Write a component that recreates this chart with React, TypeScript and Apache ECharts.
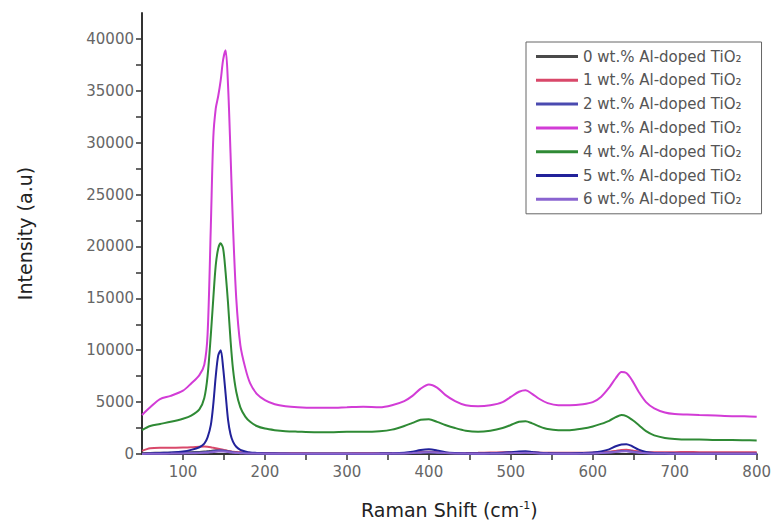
import React, { useEffect, useRef } from "react";
import * as echarts from "echarts";

const ramanShift = [50, 60, 72, 85, 100, 110, 120, 126, 130, 134, 137, 140, 143, 146, 149, 152, 155, 158, 161, 165, 170, 176, 182, 190, 200, 212, 225, 240, 260, 280, 300, 320, 340, 355, 370, 380, 390, 400, 410, 420, 432, 445, 460, 475, 490, 500, 510, 518, 526, 535, 545, 558, 572, 588, 600, 610, 620, 628, 635, 641, 648, 656, 665, 675, 688, 700, 715, 730, 750, 770, 785, 800];

const wt0 = [80, 100, 120, 130, 150, 170, 200, 230, 260, 300,
  330, 360, 380, 390, 370, 330, 280, 230, 190, 150,
  120, 100, 80, 70, 60, 50, 50, 40, 40, 40,
  40, 40, 50, 60, 80, 110, 150, 180, 150, 110,
  80, 60, 50, 60, 80, 100, 120, 130, 110, 80,
  60, 50, 50, 60, 80, 110, 170, 250, 310, 320,
  260, 170, 110, 80, 60, 50, 40, 40, 40, 40,
  40, 40];

const wt1 = [300, 550, 600, 600, 620, 650, 700, 720, 700, 650,
  600, 550, 500, 450, 400, 350, 300, 260, 220, 190,
  160, 140, 120, 100, 90, 80, 70, 70, 60, 60,
  60, 70, 70, 80, 100, 130, 180, 220, 180, 130,
  100, 90, 110, 140, 160, 170, 190, 200, 170, 140,
  120, 110, 110, 120, 140, 170, 220, 300, 380, 400,
  330, 240, 180, 160, 170, 180, 190, 180, 170, 180,
  170, 160];

const wt2 = [20, 40, 60, 80, 100, 120, 150, 180, 210, 250,
  290, 320, 340, 350, 330, 300, 260, 220, 180, 140,
  110, 90, 70, 60, 50, 40, 40, 30, 30, 30,
  30, 30, 40, 50, 70, 100, 140, 170, 140, 100,
  70, 50, 40, 50, 70, 90, 110, 120, 100, 70,
  50, 40, 40, 50, 70, 100, 150, 220, 280, 290,
  230, 150, 90, 60, 50, 40, 30, 30, 30, 30,
  30, 30];

const wt3 = [3760, 4500, 5300, 5600, 6100, 6800, 7600, 8600, 11500, 22000,
  30500, 33300, 34500, 36000, 38000, 38900, 35500, 29000, 22000, 15000,
  10500, 8300, 6800, 5800, 5200, 4800, 4600, 4500, 4450, 4450,
  4500, 4550, 4500, 4700, 5100, 5600, 6300, 6700, 6400, 5700,
  5100, 4700, 4600, 4700, 5000, 5500, 6000, 6150, 5800, 5300,
  4900, 4700, 4700, 4800, 5000, 5500, 6400, 7300, 7900, 7800,
  7100, 6000, 5000, 4400, 4000, 3850, 3800, 3750, 3700, 3650,
  3650, 3600];

const wt4 = [2300, 2700, 2900, 3100, 3400, 3700, 4300, 5400, 7500, 11500,
  15000, 18200, 19800, 20300, 19800, 17500, 14500, 11000, 8200, 6000,
  4500, 3600, 3100, 2700, 2450, 2300, 2200, 2150, 2100, 2100,
  2150, 2150, 2200, 2350, 2700, 3000, 3300, 3350, 3100, 2800,
  2500, 2250, 2150, 2250, 2500, 2800, 3100, 3150, 2950, 2650,
  2400, 2300, 2300, 2450, 2650, 2900, 3200, 3550, 3750, 3650,
  3300, 2800, 2200, 1800, 1550, 1450, 1400, 1400, 1350, 1350,
  1330, 1300];

const wt5 = [0, 50, 100, 150, 250, 400, 650, 1000, 1600, 2800,
  4800, 7500, 9500, 10000, 8300, 5800, 3300, 1900, 1200, 700,
  400, 250, 150, 100, 50, 40, 30, 30, 20, 30,
  20, 30, 40, 60, 120, 220, 380, 450, 350, 180,
  100, 60, 50, 70, 120, 180, 240, 260, 200, 120,
  80, 60, 60, 90, 150, 250, 450, 750, 920, 950,
  750, 420, 200, 100, 60, 40, 30, 30, 20, 20,
  20, 20];

const wt6 = [10, 20, 30, 40, 60, 70, 90, 110, 130, 160,
  190, 210, 230, 240, 230, 210, 180, 150, 120, 100,
  80, 60, 50, 40, 30, 30, 20, 20, 20, 20,
  20, 20, 30, 40, 60, 90, 130, 160, 130, 90,
  60, 40, 30, 40, 60, 80, 100, 110, 90, 60,
  40, 30, 30, 40, 60, 90, 140, 200, 250, 260,
  200, 130, 80, 50, 40, 30, 20, 20, 20, 20,
  20, 20];

const seriesNames = [
  "0 wt.% Al-doped TiO₂",
  "1 wt.% Al-doped TiO₂",
  "2 wt.% Al-doped TiO₂",
  "3 wt.% Al-doped TiO₂",
  "4 wt.% Al-doped TiO₂",
  "5 wt.% Al-doped TiO₂",
  "6 wt.% Al-doped TiO₂",
];
const seriesValues = [wt0, wt1, wt2, wt3, wt4, wt5, wt6];
const seriesColors = ["#4a4a4a", "#d9486a", "#4a4ab0", "#d23cd6", "#2f8a35", "#22229a", "#8a64d0"];

const xLabelValues = [100, 200, 300, 400, 500, 600, 700, 800];
const xTickValues = [100, 150, 200, 250, 300, 350, 400, 450, 500, 550, 600, 650, 700, 750, 800];
const yLabelValues = [0, 5000, 10000, 15000, 20000, 25000, 30000, 35000, 40000];
const yTickValues = [0, 2500, 5000, 7500, 10000, 12500, 15000, 17500, 20000, 22500, 25000, 27500, 30000, 32500, 35000, 37500, 40000];

const FONT = "DejaVu Sans";

export default function App() {
  const ref = useRef<HTMLDivElement>(null);
  useEffect(() => {
    if (!ref.current) return;
    const chart = echarts.init(ref.current, null, { renderer: "svg" });
    chart.setOption({
      animation: false,
      backgroundColor: "#ffffff",
      grid: { left: 142, right: 16, top: 13, bottom: 71 },
      legend: {
        left: 526,
        top: 42,
        orient: "vertical",
        icon: "rect",
        itemWidth: 42,
        itemHeight: 3,
        itemGap: 6.8,
        padding: [6, 20, 6, 10],
        borderColor: "#666",
        borderWidth: 1,
        textStyle: { fontFamily: FONT, fontSize: 15, color: "#555", lineHeight: 17 },
        data: seriesNames,
      },
      xAxis: {
        type: "value",
        min: 50,
        max: 800,
        name: "Raman Shift (cm{sup|-1})",
        nameLocation: "middle",
        nameGap: 46,
        nameTextStyle: {
          fontFamily: FONT,
          fontSize: 19,
          color: "#222",
          rich: { sup: { fontFamily: FONT, fontSize: 11, color: "#222", verticalAlign: "top", padding: [0, 0, 8, 0] } },
        },
        splitLine: { show: false },
        axisLine: { onZero: false, lineStyle: { color: "#333", width: 2 } },
        axisTick: { customValues: xTickValues, length: 6, lineStyle: { color: "#333", width: 1.5 } },
        axisLabel: {
          customValues: xLabelValues,
          margin: 10,
          fontFamily: FONT,
          fontSize: 15,
          color: "#666",
          formatter: (v: number) => String(v),
        },
      },
      yAxis: {
        type: "value",
        min: 0,
        max: 42500,
        name: "Intensity (a.u)",
        nameLocation: "middle",
        nameGap: 108,
        nameTextStyle: { fontFamily: FONT, fontSize: 19, color: "#222" },
        splitLine: { show: false },
        axisLine: { lineStyle: { color: "#333", width: 2 } },
        axisTick: { customValues: yTickValues, length: 6, lineStyle: { color: "#333", width: 1.5 } },
        axisLabel: {
          customValues: yLabelValues,
          margin: 8,
          fontFamily: FONT,
          fontSize: 15,
          color: "#666",
          formatter: (v: number) => String(v),
        },
      },
      series: seriesNames.map((name, i) => ({
        name,
        type: "line",
        showSymbol: false,
        smooth: 0.3,
        color: seriesColors[i],
        lineStyle: { width: 2, color: seriesColors[i] },
        data: ramanShift.map((x, j) => [x, seriesValues[i][j]]),
      })),
    });
    return () => chart.dispose();
  }, []);
  return <div ref={ref} style={{ position: "absolute", left: 0, top: 0, width: 774, height: 525 }} />;
}
